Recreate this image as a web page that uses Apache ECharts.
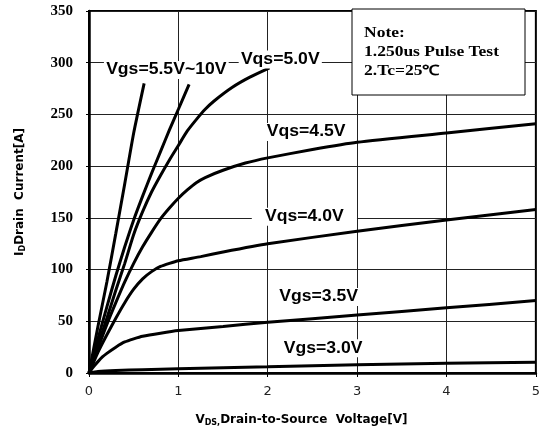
<!DOCTYPE html>
<html>
<head>
<meta charset="utf-8">
<script src="https://cdn.jsdelivr.net/npm/echarts@6/dist/echarts.min.js"></script>
<style>
html,body{margin:0;padding:0;background:#fff;}
#main{width:543px;height:437px;}
</style>
</head>
<body>
<div id="main"></div>
<script>
// curves, [Vds, Id]
var vgs10 = [[0,0],[0.1,45],[0.2,88],[0.3,135],[0.4,183],[0.5,232],[0.617,280]];
var vgs55 = [[0,0],[0.1,33],[0.2,64],[0.3,94],[0.4,122],[0.5,148],[0.6,171],[0.7,193],[0.8,214],[0.9,235],[1.0,255],[1.12,279]];
var vgs50 = [[0,0],[0.1,27],[0.2,53],[0.3,80],[0.4,106],[0.5,134],[0.6,156],[0.7,175],[0.8,191],[0.9,206],[1.0,220],[1.1,234],[1.2,245],[1.3,255],[1.4,263],[1.6,276],[1.8,286],[2.02,295]];
var vgs45 = [[0,0],[0.1,24],[0.2,47],[0.3,68],[0.4,88],[0.5,106],[0.6,122],[0.7,136],[0.8,149],[0.9,159.5],[1.0,169],[1.1,177],[1.2,184],[1.3,189],[1.5,196],[1.75,203],[2,208],[2.5,216],[3,223],[4,232],[5,241]];
var vgs40 = [[0,0],[0.1,20],[0.2,37],[0.3,53],[0.4,68],[0.5,81],[0.6,91],[0.7,98],[0.8,103],[0.9,106],[1.0,108.5],[1.25,112.5],[1.5,117],[2,125],[3,137],[4,148],[5,158]];
var vgs35 = [[0,0],[0.05,6],[0.1,11],[0.15,15.5],[0.2,19],[0.3,25],[0.4,30],[0.5,33],[0.6,35.5],[0.8,38.5],[1.0,41],[1.5,45],[2,49],[3,56],[4,63],[5,70]];
var vgs30 = [[0,0],[0.1,1.5],[0.3,2.5],[0.6,3.2],[1,4],[1.5,5],[2,6],[3,8],[4,9.5],[5,10.5]];

var curves = [vgs10, vgs55, vgs50, vgs45, vgs40, vgs35, vgs30];

// curve labels and where they sit (data coords)
var labelText = ['Vgs=5.5V~10V','Vqs=5.0V','Vqs=4.5V','Vqs=4.0V','Vgs=3.5V','Vgs=3.0V'];
var labelPos = [[0.865,293],[2.14,303],[2.43,233],[2.41,151],[2.57,73.5],[2.62,24]];

var noteLines = ['Note:','1.250us Pulse Test','2.Tc=25\u2103'];

var myChart = echarts.init(document.getElementById('main'));

var series = [];
for (var i = 0; i < curves.length; i++) {
	series.push({
		type : 'line',
		data : curves[i],
		smooth : 0.2,
		symbol : 'none',
		lineStyle : { color : '#000', width : 3 },
		z : 3
	});
}

var nameFont = { fontFamily : 'DejaVu Sans', fontWeight : 'bold', fontSize : 12, color : '#000' };
var subFont = { fontFamily : 'DejaVu Sans', fontWeight : 'bold', fontSize : 8, color : '#000', padding : [6, 0, 0, 0] };

option = {
	animation : false,
	backgroundColor : '#fff',
	grid : {
		left : 89, right : 3, top : 11, bottom : 64,
		show : true,
		borderColor : '#000',
		borderWidth : 2
	},
	xAxis : {
		type : 'value',
		min : 0, max : 5, interval : 1,
		name : '{a|V}{s|DS,}{a|Drain-to-Source  Voltage[V]}',
		nameLocation : 'middle',
		nameGap : 40,
		nameTextStyle : { padding : [0, 22, 0, 0], rich : { a : nameFont, s : subFont } },
		axisLine : { lineStyle : { color : '#000', width : 2.5 } },
		axisTick : { show : true, length : 4, lineStyle : { color : '#000' } },
		axisLabel : { fontFamily : 'DejaVu Sans', fontSize : 13, color : '#222', margin : 12 },
		splitLine : { lineStyle : { color : '#222', width : 1 } }
	},
	yAxis : {
		type : 'value',
		min : 0, max : 350, interval : 50,
		name : '{a|I}{s|D}{a|Drain  Current[A]}',
		nameLocation : 'middle',
		nameGap : 62,
		nameTextStyle : { rich : { a : nameFont, s : subFont } },
		axisLine : { lineStyle : { color : '#000', width : 2.5 } },
		axisTick : { show : true, length : 3, lineStyle : { color : '#000' } },
		axisLabel : { fontFamily : 'Liberation Serif', fontWeight : 'bold', fontSize : 15, color : '#000', margin : 16 },
		splitLine : { lineStyle : { color : '#222', width : 1 } }
	},
	series : series
};
myChart.setOption(option);

// labels over the curves + note box
var g = [];
for (var k = 0; k < labelText.length; k++) {
	var p = myChart.convertToPixel({ gridIndex : 0 }, labelPos[k]);
	g.push({
		type : 'text',
		x : p[0], y : p[1],
		scaleX : 1.1,
		z : 10,
		style : {
			text : labelText[k],
			font : 'bold 16px "Liberation Sans"',
			fill : '#000',
			align : 'center',
			verticalAlign : 'middle',
			backgroundColor : '#fff',
			padding : k == 3 ? [1, 12] : [1, 2]
		}
	});
}
g.push({
	type : 'rect',
	shape : { x : 352, y : 9, width : 173, height : 86 },
	style : { fill : '#fff', stroke : '#000', lineWidth : 1 },
	z : 20
});
for (var n = 0; n < noteLines.length; n++) {
	g.push({
		type : 'text',
		x : 364, y : 33 + n * 19,
		scaleX : 1.25,
		z : 21,
		style : {
			text : noteLines[n],
			font : 'bold 14px "Liberation Serif"',
			fill : '#000',
			verticalAlign : 'middle'
		}
	});
}
myChart.setOption({ graphic : g });
</script>
</body>
</html>
